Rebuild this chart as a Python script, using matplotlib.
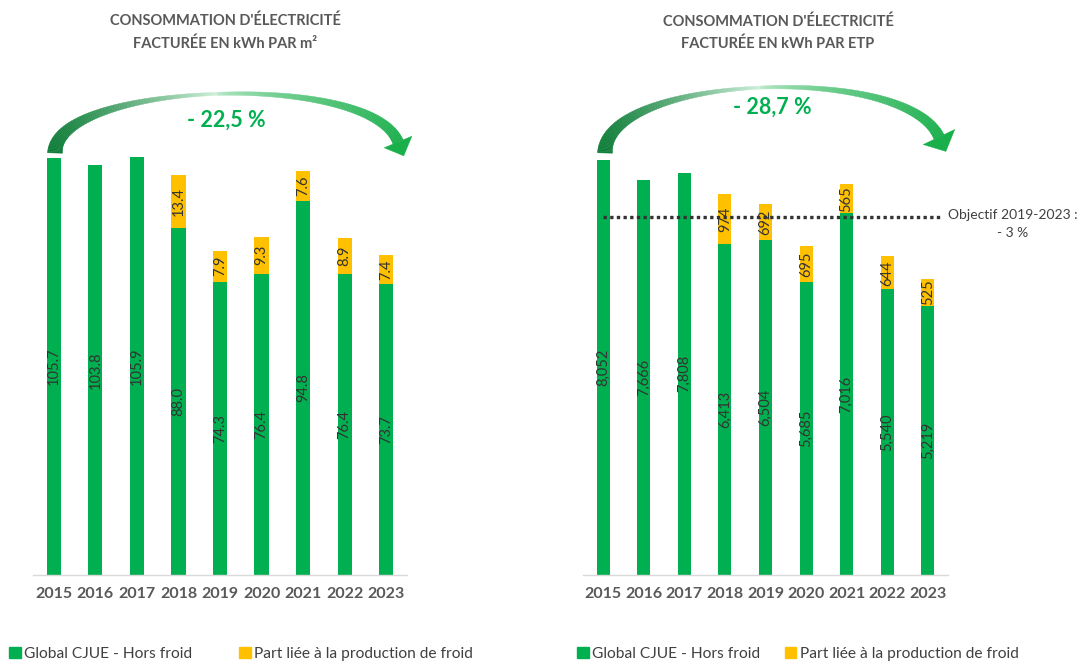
import numpy as np
import matplotlib
matplotlib.use("Agg")
import matplotlib.pyplot as plt
from matplotlib.patches import Patch, Polygon
from matplotlib.colors import to_rgb

plt.rcParams['font.family'] = ['Lato', 'DejaVu Sans']

years = ['2015', '2016', '2017', '2018', '2019', '2020', '2021', '2022', '2023']
m2_global = [105.7, 103.8, 105.9, 88.0, 74.3, 76.4, 94.8, 76.4, 73.7]
m2_froid = [0, 0, 0, 13.4, 7.9, 9.3, 7.6, 8.9, 7.4]
etp_global = [8052, 7666, 7808, 6413, 6504, 5685, 7016, 5540, 5219]
etp_froid = [0, 0, 0, 974, 692, 695, 565, 644, 525]
etp_objectif = 6950

GREEN = '#00B050'
YELLOW = '#FFC000'
DARK = '#404040'
GREY = '#595959'

fig = plt.figure(figsize=(10.81, 6.62), dpi=100)


def draw_bars(ax, glob, froid, ymax, width, fmt):
    x = np.arange(len(years))
    ax.bar(x, glob, width=width, color=GREEN, zorder=2)
    ax.bar(x, froid, bottom=glob, width=width, color=YELLOW, zorder=2)
    for i in range(len(years)):
        ax.text(x[i], glob[i] / 2, fmt(glob[i]), rotation=90, ha='center',
                va='center', fontsize=10.5, color='#333333', zorder=3)
        if froid[i] > 0:
            ax.text(x[i], glob[i] + froid[i] / 2, fmt(froid[i]), rotation=90,
                    ha='center', va='center', fontsize=10.5, color='#333333', zorder=3)
    ax.set_xlim(-0.5, len(years) - 0.5)
    ax.set_ylim(0, ymax)
    ax.set_xticks(x)
    ax.set_xticklabels(years, fontsize=11.5, fontweight='bold', color=GREY)
    ax.tick_params(axis='x', length=0, pad=9)
    ax.set_yticks([])
    for s in ['top', 'left', 'right']:
        ax.spines[s].set_visible(False)
    ax.spines['bottom'].set_color('#D9D9D9')
    ax.spines['bottom'].set_linewidth(1)


ax1 = fig.add_axes([33 / 1081, 1 - 575 / 662, 374 / 1081, 425 / 662])
draw_bars(ax1, m2_global, m2_froid, 107.7, 0.34, lambda v: f"{v:.1f}")

ax2 = fig.add_axes([583 / 1081, 1 - 575 / 662, 365 / 1081, 425 / 662])
draw_bars(ax2, etp_global, etp_froid, 8246, 0.32, lambda v: f"{v:,}")
ax2.plot([0, 8.3], [etp_objectif, etp_objectif], color='#333333',
         linestyle=(0, (1, 1)), linewidth=2.4, zorder=4, clip_on=False)

# overlay in pixel coordinates for arrows and text
ov = fig.add_axes([0, 0, 1, 1], zorder=5)
ov.set_xlim(0, 1081)
ov.set_ylim(662, 0)
ov.axis('off')
ov.patch.set_alpha(0)


def curved_arrow(p0, p1, p2, p3, head_len=15, head_w=30):
    t = np.linspace(0, 1, 160)
    pts = ((1 - t) ** 3)[:, None] * p0 + (3 * (1 - t) ** 2 * t)[:, None] * p1 \
        + (3 * (1 - t) * t ** 2)[:, None] * p2 + (t ** 3)[:, None] * p3
    d = np.gradient(pts, axis=0)
    d /= np.linalg.norm(d, axis=1)[:, None]
    nrm = np.stack([-d[:, 1], d[:, 0]], axis=1)
    w = np.where(t < 0.5, 3 + 12 * np.abs(1 - 2 * t) ** 1.5,
                 3 + 8 * np.abs(2 * t - 1) ** 1.2)
    c0, c1, c2 = np.array(to_rgb('#0E7D38')), np.array(to_rgb('#CDEFD8')), np.array(to_rgb('#19AF4B'))
    for i in range(len(t) - 1):
        tm = (t[i] + t[i + 1]) / 2
        if tm < 0.5:
            c = c0 + (c1 - c0) * (tm / 0.5) ** 1.8
        else:
            c = c1 + (c2 - c1) * ((tm - 0.5) / 0.5) ** 0.5
        a = pts[i] + nrm[i] * w[i] / 2
        b = pts[i + 1] + nrm[i + 1] * w[i + 1] / 2
        cc = pts[i + 1] - nrm[i + 1] * w[i + 1] / 2
        dd = pts[i] - nrm[i] * w[i] / 2
        ov.add_patch(Polygon([a, b, cc, dd], closed=True, facecolor=c,
                             edgecolor=c, linewidth=0.3))
    end = pts[-1]
    dirv = d[-1]
    nv = nrm[-1]
    tip = end + dirv * head_len
    ov.add_patch(Polygon([end + nv * head_w / 2, tip, end - nv * head_w / 2],
                         closed=True, facecolor=c2, edgecolor=c2, linewidth=0.3))


curved_arrow(np.array([55, 153.]), np.array([55, 82.]), np.array([370, 70.]),
             np.array([398, 142.]), head_len=15, head_w=30)
curved_arrow(np.array([605, 153.]), np.array([605, 75.]), np.array([905, 62.]),
             np.array([939, 137.]), head_len=16, head_w=35)

ov.text(226, 120, '- 22,5 %', ha='center', va='center', fontsize=15.5,
        fontweight='bold', color=GREEN)
ov.text(772, 107, '- 28,7 %', ha='center', va='center', fontsize=15.5,
        fontweight='bold', color=GREEN)

title_kw = dict(ha='center', va='center', fontsize=10.5, fontweight='bold', color=GREY)
ov.text(225, 21, "CONSOMMATION D'ÉLECTRICITÉ", **title_kw)
ov.text(225, 44, "FACTURÉE EN kWh PAR m²", **title_kw)
ov.text(778, 22, "CONSOMMATION D'ÉLECTRICITÉ", **title_kw)
ov.text(778, 44, "FACTURÉE EN kWh PAR ETP", **title_kw)

ov.text(1013, 215, 'Objectif 2019-2023 :', ha='center', va='center',
        fontsize=10, color=DARK)
ov.text(1013, 233, '- 3 %', ha='center', va='center', fontsize=10, color=DARK)

handles = [Patch(color=GREEN, label='Global CJUE - Hors froid'),
           Patch(color=YELLOW, label='Part liée à la production de froid')]
leg_kw = dict(ncol=2, frameon=False, fontsize=11.2, handlelength=0.75,
              handleheight=0.75, handletextpad=0.2,
              loc='center left', labelcolor=DARK, borderpad=0, borderaxespad=0)
fig.legend(handles=handles, bbox_to_anchor=(9 / 1081, 1 - 654 / 662),
           columnspacing=3.05, **leg_kw)
fig.legend(handles=handles, bbox_to_anchor=(577 / 1081, 1 - 654 / 662),
           columnspacing=1.6, **leg_kw)

fig.savefig('out.png', dpi=100)
